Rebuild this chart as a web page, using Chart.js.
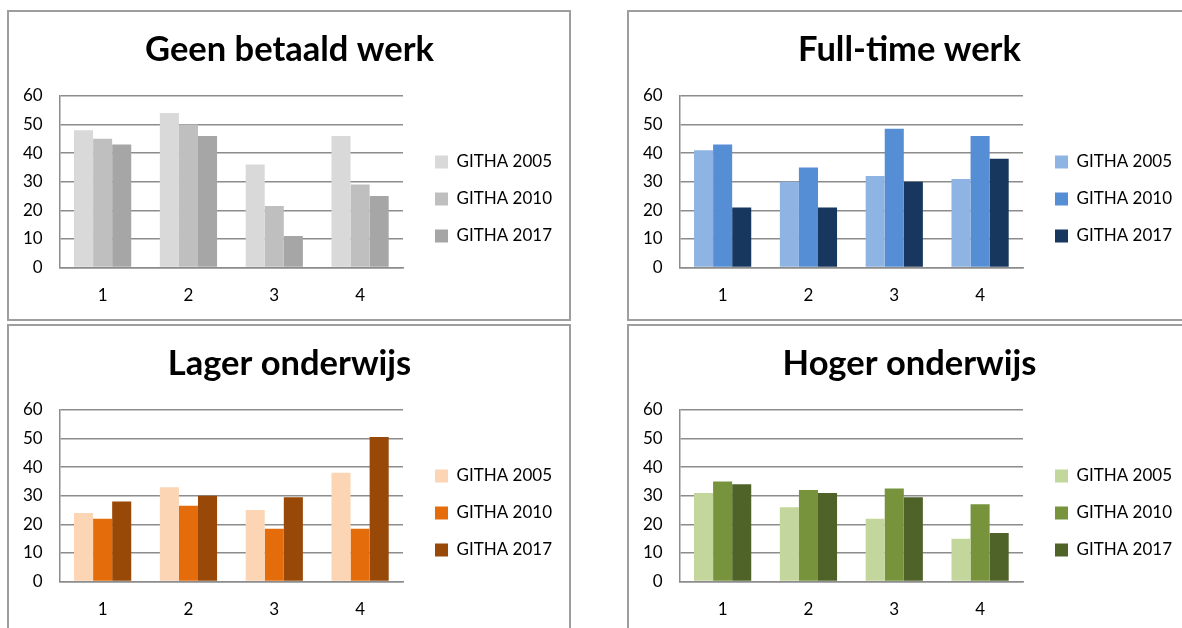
<!DOCTYPE html>
<html>
<head>
<meta charset="utf-8">
<title>GITHA</title>
<script src="https://cdn.jsdelivr.net/npm/chart.js@4.4.1/dist/chart.umd.min.js"></script>
<style>
  html, body { margin: 0; padding: 0; background: #fff; }
  body { width: 1182px; height: 628px; overflow: hidden; position: relative; }
  .panel { position: absolute; width: 560px; height: 307px; border: 2px solid #9e9e9e; background: #fff; }
  .panel canvas { display: block; }
</style>
</head>
<body>
<div class="panel" style="left:7px; top:10px;"><canvas id="chartGeen" width="560" height="307"></canvas></div>
<div class="panel" style="left:627px; top:10px;"><canvas id="chartFull" width="560" height="307"></canvas></div>
<div class="panel" style="left:7px; top:324px;"><canvas id="chartLager" width="560" height="307"></canvas></div>
<div class="panel" style="left:627px; top:324px;"><canvas id="chartHoger" width="560" height="307"></canvas></div>

<script>
// categories, series and axis ticks
const categories = ["1", "2", "3", "4"];
const seriesLabels = ["GITHA 2005", "GITHA 2010", "GITHA 2017"];
const yTicks = [0, 10, 20, 30, 40, 50, 60];

// Geen betaald werk
const geen2005 = [48, 54, 36, 46];
const geen2010 = [45, 50, 21.5, 29];
const geen2017 = [43, 46, 11, 25];

// Full-time werk
const full2005 = [41, 30, 32, 31];
const full2010 = [43, 35, 48.5, 46];
const full2017 = [21, 21, 30, 38];

// Lager onderwijs
const lager2005 = [24, 33, 25, 38];
const lager2010 = [22, 26.5, 18.5, 18.5];
const lager2017 = [28, 30, 29.5, 50.5];

// Hoger onderwijs
const hoger2005 = [31, 26, 22, 15];
const hoger2010 = [35, 32, 32.5, 27];
const hoger2017 = [34, 31, 29.5, 17];

// Colors per panel
const greys = ["#d9d9d9", "#bfbfbf", "#a6a6a6"];
const blues = ["#8eb4e3", "#558ed5", "#17375e"];
const oranges = ["#fcd5b5", "#e46c0a", "#984807"];
const greens = ["#c3d69b", "#77933c", "#4f6228"];

const fontFamily = "Lato, 'Open Sans', sans-serif";
const gridColor = "#8c8c8c";

function makeChart(id, title, series, colors) {
  const ctx = document.getElementById(id);

  const datasets = series.map((values, i) => ({
    label: seriesLabels[i],
    data: values,
    backgroundColor: colors[i],
    borderWidth: 0,
    categoryPercentage: 2 / 3,
    barPercentage: 1.0,
  }));

  return new Chart(ctx, {
    type: "bar",
    data: { labels: categories, datasets: datasets },
    options: {
      responsive: false,
      animation: false,
      layout: {
        padding: { left: 8, right: 7, top: 0, bottom: 13 },
      },
      plugins: {
        title: {
          display: true,
          text: title,
          color: "#000",
          font: { size: 34.5, weight: "bold", family: fontFamily },
          padding: { top: 17, bottom: 25.5 },
        },
        legend: {
          position: "right",
          align: "center",
          maxWidth: 220,
          // empty title only nudges the items down
          title: { display: true, text: " ", font: { size: 10 }, padding: 34 },
          labels: {
            boxWidth: 13,
            boxHeight: 13,
            padding: 20,
            color: "#000",
            font: { size: 17, family: fontFamily },
          },
        },
        tooltip: { enabled: false },
      },
      scales: {
        x: {
          grid: { display: false, drawTicks: false },
          border: { display: true, color: gridColor, width: 1.5 },
          ticks: {
            color: "#000",
            padding: 18,
            font: { size: 17, family: fontFamily },
          },
          // padding gets counted twice in the fit, take one back
          afterFit: function (scale) {
            scale.height -= 18;
          },
        },
        y: {
          min: yTicks[0],
          max: yTicks[yTicks.length - 1],
          grid: { color: gridColor, lineWidth: 1.5, drawTicks: false },
          border: { display: true, color: gridColor, width: 1.5 },
          ticks: {
            stepSize: yTicks[1] - yTicks[0],
            color: "#000",
            padding: 17,
            font: { size: 17, family: fontFamily },
          },
          afterFit: function (scale) {
            scale.width -= 11;
          },
        },
        // spacer between plot and legend
        gap: {
          type: "linear",
          position: "right",
          grid: { display: false, drawTicks: false },
          border: { display: false },
          ticks: { display: false },
          afterFit: function (scale) {
            scale.width = 12;
          },
        },
      },
    },
  });
}

document.addEventListener("DOMContentLoaded", function () {
  makeChart("chartGeen", "Geen betaald werk", [geen2005, geen2010, geen2017], greys);
  makeChart("chartFull", "Full-time werk", [full2005, full2010, full2017], blues);
  makeChart("chartLager", "Lager onderwijs", [lager2005, lager2010, lager2017], oranges);
  makeChart("chartHoger", "Hoger onderwijs", [hoger2005, hoger2010, hoger2017], greens);
});
</script>
</body>
</html>
